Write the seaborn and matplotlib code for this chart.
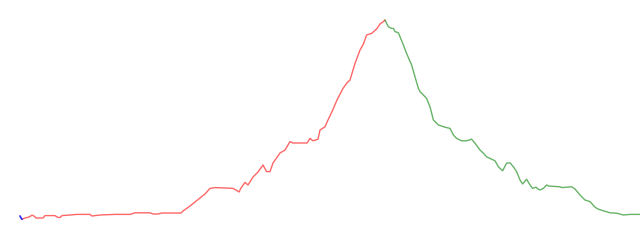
import matplotlib
matplotlib.use("Agg")
import matplotlib.pyplot as plt
import seaborn as sns
import pandas as pd

# distance (km) and elevation (m) for each coloured segment
blue_dist = [0.0, 0.05, 0.10]
blue_elev = [120, 110, 104]

red_dist = [0.10, 0.25, 0.45, 0.60, 0.70, 0.80, 1.15, 1.25, 1.75, 1.85, 2.00, 2.10, 2.50, 2.85,
            3.50, 3.60, 4.00, 4.75, 5.50, 5.75, 6.50, 6.65, 6.90, 7.10, 7.60, 8.05, 8.15, 8.50,
            9.00, 9.25, 9.50, 9.75, 10.25, 10.65, 10.80, 10.95, 11.05, 11.25, 11.40, 11.65, 11.90,
            12.15, 12.33, 12.50, 12.65, 13.00, 13.25, 13.50, 13.65, 14.35, 14.50, 14.65, 14.90,
            15.00, 15.25, 15.40, 15.60, 15.85, 16.15, 16.35, 16.50, 16.75, 17.00, 17.17, 17.33,
            17.58, 17.83, 18.00, 18.17, 18.25]
red_elev = [104, 110, 115, 124, 120, 110, 110, 122, 122, 115, 112, 122, 125, 128,
            128, 120, 125, 128, 128, 136, 136, 130, 130, 135, 135, 135, 145, 170,
            210, 230, 258, 262, 260, 258, 250, 240, 260, 288, 275, 315, 340,
            375, 342, 342, 385, 435, 450, 492, 485, 485, 508, 496, 504,
            550, 566, 600, 642, 700, 758, 786, 800, 883, 950, 980, 1025,
            1033, 1055, 1080, 1092, 1100]

green_dist = [18.25, 18.33, 18.42, 18.58, 18.67, 18.75, 18.92, 19.00, 19.17, 19.33, 19.47, 19.58,
              19.75, 19.92, 20.00, 20.17, 20.33, 20.50, 20.67, 20.92, 21.25, 21.50, 21.67, 21.83,
              22.08, 22.33, 22.58, 22.75, 23.00, 23.17, 23.33, 23.58, 23.75, 23.92, 24.13, 24.33,
              24.50, 24.67, 24.83, 25.00, 25.13, 25.33, 25.47, 25.63, 25.80, 25.92, 26.00, 26.17,
              26.33, 26.42, 27.00, 27.08, 27.58, 27.75, 28.00, 28.25, 28.50, 28.75, 28.92, 29.17,
              29.50, 29.83, 30.17, 30.50, 31.00]
green_elev = [1100, 1083, 1066, 1058, 1058, 1042, 1036, 1016, 975, 933, 900, 875,
              816, 758, 742, 725, 708, 666, 600, 575, 564, 558, 525, 508,
              496, 496, 504, 484, 450, 434, 416, 404, 396, 366, 346, 384,
              386, 366, 342, 300, 280, 304, 280, 258, 264, 254, 250, 258,
              275, 270, 266, 262, 266, 255, 225, 200, 192, 164, 154, 146,
              136, 134, 125, 128, 128]

segments = {"blue": (blue_dist, blue_elev), "red": (red_dist, red_elev), "green": (green_dist, green_elev)}
rows = []
for name, (d, e) in segments.items():
    for i, (x, y) in enumerate(zip(d, e)):
        rows.append({"segment": name, "order": i, "distance": x, "elevation": y})
df = pd.DataFrame(rows)

sns.set_style("white")
fig = plt.figure(figsize=(6.4, 2.4), dpi=100)
ax = fig.add_axes([0, 0, 1, 1])

sns.lineplot(data=df[df.segment == "red"], x="distance", y="elevation", color="red",
             alpha=0.6, lw=1.0, sort=False, estimator=None, ax=ax)
sns.lineplot(data=df[df.segment == "green"], x="distance", y="elevation", color="green",
             alpha=0.6, lw=1.0, sort=False, estimator=None, ax=ax)
sns.lineplot(data=df[df.segment == "blue"], x="distance", y="elevation", color="blue",
             alpha=0.8, lw=1.3, sort=False, estimator=None, ax=ax)

ax.set_xlim(-1, 31)
ax.set_ylim(0, 1200)
ax.axis("off")
fig.savefig("out.png", dpi=100, facecolor="white")
